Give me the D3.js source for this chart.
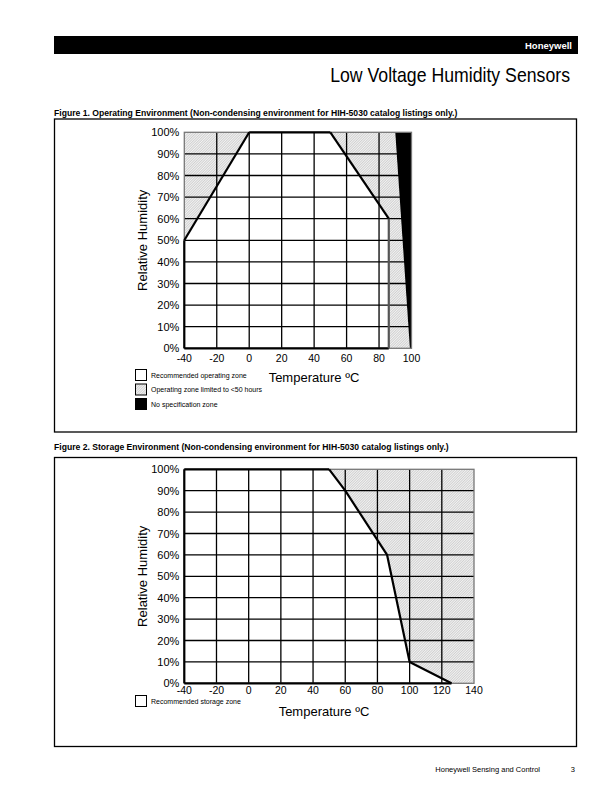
<!DOCTYPE html>
<html>
<head>
<meta charset="utf-8">
<script src="https://cdn.jsdelivr.net/npm/d3@7"></script>
<style>
  body { margin: 0; background: #fff; }
  svg { display: block; font-family: "Liberation Sans", Arial, sans-serif; }
</style>
</head>
<body>
<svg id="page" width="612" height="792"></svg>
<script>
// ---- data ----
var humidityTicks = [0, 10, 20, 30, 40, 50, 60, 70, 80, 90, 100];
var opTempTicks = [-40, -20, 0, 20, 40, 60, 80, 100];
var stTempTicks = [-40, -20, 0, 20, 40, 60, 80, 100, 120, 140];

// figure 1: [temp, %RH]
var opLimitedLeft = [[-40, 50], [-40, 100], [0, 100]];
var opLimitedRight = [[50, 100], [90, 100], [99, 0], [86, 0], [86, 60]];
var opNoSpec = [[90, 100], [100, 100], [100, 0], [99, 0]];
var opBoundLeft = [[-40, 50], [0, 100]];
var opBoundRight = [[50, 100], [86, 60]];
var opBoundVert = [[86, 60], [86, 0]];

// figure 2
var stLimited = [[50, 100], [140, 100], [140, 0], [126, 0], [100, 10], [86, 60], [60, 90]];
var stBound = [[50, 100], [60, 90], [86, 60], [100, 10], [126, 0]];

var opLegend = ["Recommended operating zone", "Operating zone limited to <50 hours", "No specification zone"];
var stLegend = ["Recommended storage zone"];

var svg = d3.select("#page");

// hatch pattern (fine, light)
var defs = svg.append("defs");
var pat = defs.append("pattern")
	.attr("id", "hatch")
	.attr("patternUnits", "userSpaceOnUse")
	.attr("width", 1.8)
	.attr("height", 1.8)
	.attr("patternTransform", "rotate(45)");
pat.append("rect").attr("width", 1.8).attr("height", 1.8).attr("fill", "#f2f2f2");
pat.append("line")
	.attr("x1", 0).attr("y1", 0).attr("x2", 0).attr("y2", 1.8)
	.attr("stroke", "#9a9a9a").attr("stroke-width", 0.7);

// ---- header ----
svg.append("rect").attr("x", 54).attr("y", 36).attr("width", 524).attr("height", 18).attr("fill", "#000");
svg.append("text").attr("x", 572).attr("y", 49).attr("text-anchor", "end")
	.attr("font-size", 9.5).attr("font-weight", "bold").attr("fill", "#fff").text("Honeywell");

// narrow headline: squeeze horizontally to the width seen in the page
var head = svg.append("text").attr("x", 0).attr("y", 0).attr("text-anchor", "end")
	.attr("font-size", 21).text("Low Voltage Humidity Sensors");
var headW = head.node().getComputedTextLength();
head.attr("transform", "translate(570,82) scale(" + (240 / headW) + ",1)");

// footer
svg.append("text").attr("x", 540).attr("y", 772).attr("text-anchor", "end")
	.attr("font-size", 7.5).text("Honeywell Sensing and Control");
svg.append("text").attr("x", 575).attr("y", 772).attr("text-anchor", "end")
	.attr("font-size", 7.5).text("3");

function drawFigure(opt)
{
	// caption and frame
	svg.append("text").attr("x", 54).attr("y", opt.titleY)
		.attr("font-size", 8.6).attr("font-weight", "bold").text(opt.title);
	svg.append("rect")
		.attr("x", 54.5).attr("y", opt.box[0])
		.attr("width", 522).attr("height", opt.box[1] - opt.box[0])
		.attr("fill", "none").attr("stroke", "#000").attr("stroke-width", 1.3);

	var x = d3.scaleLinear().domain(opt.xDomain).range(opt.xRange);
	var y = d3.scaleLinear().domain([0, 100]).range(opt.yRange);
	var line = d3.line().x(function(d) { return x(d[0]); }).y(function(d) { return y(d[1]); });
	var g = svg.append("g");

	opt.hatched.forEach(function(poly) {
		g.append("path").attr("d", line(poly) + "Z").attr("fill", "url(#hatch)");
	});
	opt.black.forEach(function(poly) {
		g.append("path").attr("d", line(poly) + "Z").attr("fill", "#000");
	});

	// grid
	g.selectAll("line.vgrid").data(opt.xTicks.slice(1, -1)).enter().append("line")
		.attr("x1", function(d) { return x(d); }).attr("x2", function(d) { return x(d); })
		.attr("y1", y(0)).attr("y2", y(100))
		.attr("stroke", "#000").attr("stroke-width", 1.3);
	g.selectAll("line.hgrid").data(humidityTicks.slice(1, -1)).enter().append("line")
		.attr("x1", x(opt.xDomain[0])).attr("x2", x(opt.xDomain[1]))
		.attr("y1", function(d) { return y(d); }).attr("y2", function(d) { return y(d); })
		.attr("stroke", "#000").attr("stroke-width", 1.3);

	// frame of plot
	g.append("rect")
		.attr("x", x(opt.xDomain[0])).attr("y", y(100))
		.attr("width", x(opt.xDomain[1]) - x(opt.xDomain[0])).attr("height", y(0) - y(100))
		.attr("fill", "none").attr("stroke", "#777").attr("stroke-width", 1.3);
	opt.frameBlack.forEach(function(seg) {
		g.append("path").attr("d", line(seg)).attr("fill", "none")
			.attr("stroke", "#000").attr("stroke-width", 2.2);
	});

	// boundary lines
	opt.bounds.forEach(function(b) {
		g.append("path").attr("d", line(b.pts)).attr("fill", "none")
			.attr("stroke", b.color).attr("stroke-width", b.w).attr("stroke-linejoin", "round");
	});

	// y tick labels
	g.selectAll("text.ytick").data(humidityTicks).enter().append("text")
		.attr("x", x(opt.xDomain[0]) - 5).attr("y", function(d) { return y(d) + 4; })
		.attr("text-anchor", "end").attr("font-size", 11)
		.text(function(d) { return d + "%"; });
	// x tick labels
	g.selectAll("text.xtick").data(opt.xTicks).enter().append("text")
		.attr("x", function(d) { return x(d); }).attr("y", y(0) + opt.xTickDy)
		.attr("text-anchor", "middle").attr("font-size", 10.5)
		.text(function(d) { return d; });

	// axis titles
	var yMid = (y(0) + y(100)) / 2;
	g.append("text")
		.attr("transform", "translate(147," + yMid + ") rotate(-90)")
		.attr("text-anchor", "middle").attr("font-size", 13).text("Relative Humidity");
	g.append("text").attr("x", opt.xTitleX).attr("y", opt.xTitleY)
		.attr("text-anchor", "middle").attr("font-size", 13)
		.text("Temperature \u00BAC");

	// legend
	opt.legend.forEach(function(label, i) {
		var ly = opt.legendY + i * 14.5;
		g.append("rect").attr("x", 135.5).attr("y", ly - 5.5).attr("width", 11).attr("height", 11)
			.attr("fill", opt.legendFill[i]).attr("stroke", "#000").attr("stroke-width", 1);
		g.append("text").attr("x", 151).attr("y", ly + 2.5)
			.attr("font-size", 7).text(label);
	});
}

drawFigure({
	title: "Figure 1. Operating Environment (Non-condensing environment for HIH-5030 catalog listings only.)",
	titleY: 116,
	box: [119, 432],
	xDomain: [-40, 100], xRange: [184.3, 411.5],
	yRange: [348.3, 132.3],
	xTicks: opTempTicks,
	xTickDy: 13.5,
	hatched: [opLimitedLeft, opLimitedRight],
	black: [opNoSpec],
	frameBlack: [[[-40, 0], [86, 0]], [[0, 100], [50, 100]], [[-40, 0], [-40, 50]]],
	bounds: [
		{ pts: opBoundLeft, color: "#000", w: 2.2 },
		{ pts: opBoundRight, color: "#000", w: 2.2 },
		{ pts: opBoundVert, color: "#555", w: 2.2 }
	],
	xTitleX: 314, xTitleY: 382,
	legend: opLegend,
	legendFill: ["#fff", "url(#hatch)", "#000"],
	legendY: 375
});

drawFigure({
	title: "Figure 2. Storage Environment (Non-condensing environment for HIH-5030 catalog listings only.)",
	titleY: 450,
	box: [457.5, 746.5],
	xDomain: [-40, 140], xRange: [184.3, 474],
	yRange: [683.3, 469.3],
	xTicks: stTempTicks,
	xTickDy: 10.8,
	hatched: [stLimited],
	black: [],
	frameBlack: [[[-40, 0], [126, 0]], [[-40, 100], [50, 100]], [[-40, 0], [-40, 100]]],
	bounds: [
		{ pts: stBound, color: "#000", w: 2.2 }
	],
	xTitleX: 324, xTitleY: 716,
	legend: stLegend,
	legendFill: ["#fff"],
	legendY: 701
});
</script>
</body>
</html>
